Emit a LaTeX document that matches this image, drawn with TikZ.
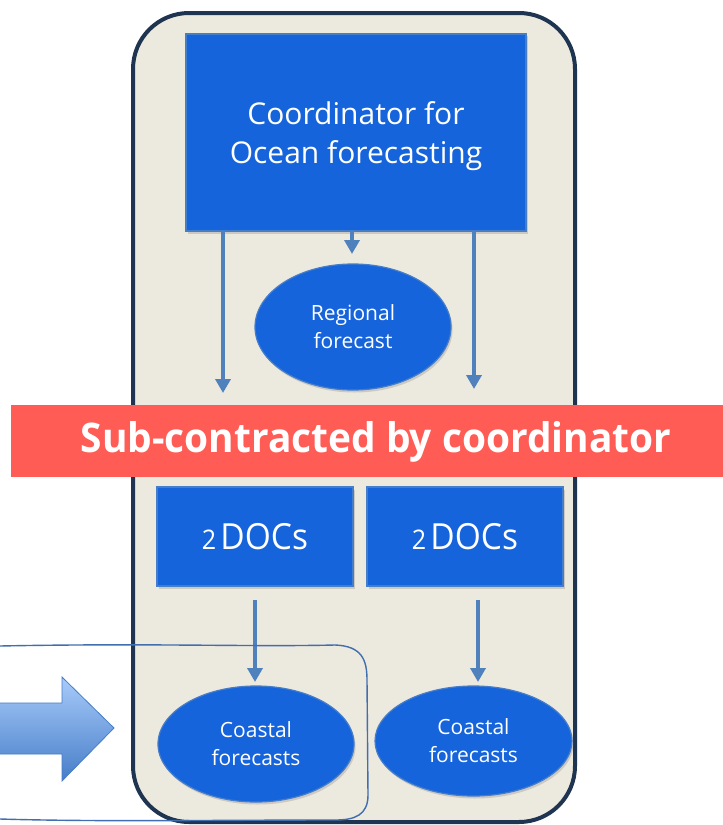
\documentclass[tikz,border=0pt]{standalone}
\usepackage{fontspec}
\setmainfont{Open Sans}
\usetikzlibrary{arrows.meta,shadows,shapes.geometric}
\definecolor{boxblue}{RGB}{22,100,220}
\definecolor{boxedge}{RGB}{70,125,200}
\definecolor{arrowblue}{RGB}{79,129,189}
\definecolor{beige}{RGB}{236,233,223}
\definecolor{navy}{RGB}{30,52,80}
\definecolor{bannerred}{RGB}{255,92,86}
\definecolor{handblue}{RGB}{65,110,175}
\definecolor{bigtop}{RGB}{168,203,250}
\definecolor{bigbot}{RGB}{70,125,200}
\tikzset{
  bluebox/.style={draw=boxedge,line width=1.2bp,fill=boxblue,text=white,inner sep=0pt,
    drop shadow={opacity=0.3,shadow xshift=1.5bp,shadow yshift=-2.5bp}},
  blueell/.style={ellipse,draw=boxedge,line width=1.2bp,fill=boxblue,text=white,inner sep=0pt,align=center,
    drop shadow={opacity=0.3,shadow xshift=1.5bp,shadow yshift=-2.5bp}},
  flow/.style={draw=arrowblue,line width=4.5bp,-{Triangle[width=15bp,length=14bp]}},
}
\newcommand{\doclabel}{\scalebox{0.93}[1]{\fontsize{27bp}{30bp}\selectfont 2\,\fontsize{36bp}{40bp}\selectfont DOCs}}
\begin{document}
\begin{tikzpicture}[x=1bp,y=-1bp]
\useasboundingbox (0,0) rectangle (723,825);
% outer panel
\draw[navy,line width=4bp,fill=beige,rounded corners=56bp] (133,13) rectangle (575,822);
% coordinator box
\node[bluebox,minimum width=340bp,minimum height=197bp] (coord) at (356,132.5) {};
\node[text=white,align=center,inner sep=0pt,font=\fontsize{30bp}{39bp}\selectfont] (coordtext) at (356,136) {Coordinator for\\Ocean forecasting};
% regional
\node[blueell,minimum width=196bp,minimum height=126bp,font=\fontsize{21bp}{28bp}\selectfont] (reg) at (353,327) {Regional\\forecast};
% anchors for arrows
\coordinate (lstart) at (223,231);
\coordinate (lend) at (223,393);
\coordinate (rstart) at (474,231);
\coordinate (rend) at (474,389);
\coordinate (mstart) at (352,231);
\coordinate (mend) at (352,254);
\draw[flow] (lstart) -- (lend);
\draw[flow] (rstart) -- (rend);
\draw[flow] (mstart) -- (mend);
% banner
\node[fill=bannerred,minimum width=712bp,minimum height=72bp,inner sep=0pt] (banner) at (367,441) {};
\node[text=white,inner sep=0pt] (bantext) at (376,442) {\resizebox{590bp}{31bp}{\fontsize{39bp}{39bp}\selectfont\bfseries Sub-contracted by coordinator}};
% DOC boxes
\node[bluebox,minimum width=196bp,minimum height=99bp] (docl) at (255,536.5) {\doclabel};
\node[bluebox,minimum width=196bp,minimum height=99bp] (docr) at (465,536.5) {\doclabel};
% coastal
\node[blueell,minimum width=196bp,minimum height=116bp,font=\fontsize{21bp}{28bp}\selectfont] (coastl) at (256,744) {Coastal\\forecasts};
\node[blueell,minimum width=197bp,minimum height=110bp,font=\fontsize{21bp}{28bp}\selectfont] (coastr) at (473.5,741) {Coastal\\forecasts};
\coordinate (dla) at (255,600);
\coordinate (dra) at (478,600);
\coordinate (dlb) at (255,682);
\coordinate (drb) at (478,682);
\draw[flow] (dla) -- (dlb);
\draw[flow] (dra) -- (drb);
% hand-drawn outline
\draw[handblue,line width=1.4bp] (0,646) .. controls (150,643) and (250,647) .. (335,645)
  .. controls (362,646) and (367,660) .. (367,680) -- (368,795)
  .. controls (368,815) and (355,820) .. (335,820) .. controls (220,820) and (100,822) .. (0,819);
% big arrow
\path[top color=bigtop,bottom color=bigbot,draw=boxedge,line width=0.8bp]
  (0,703) -- (62,703) -- (62,677) -- (114,728) -- (62,781) -- (62,754) -- (0,754);
\end{tikzpicture}
\end{document}
